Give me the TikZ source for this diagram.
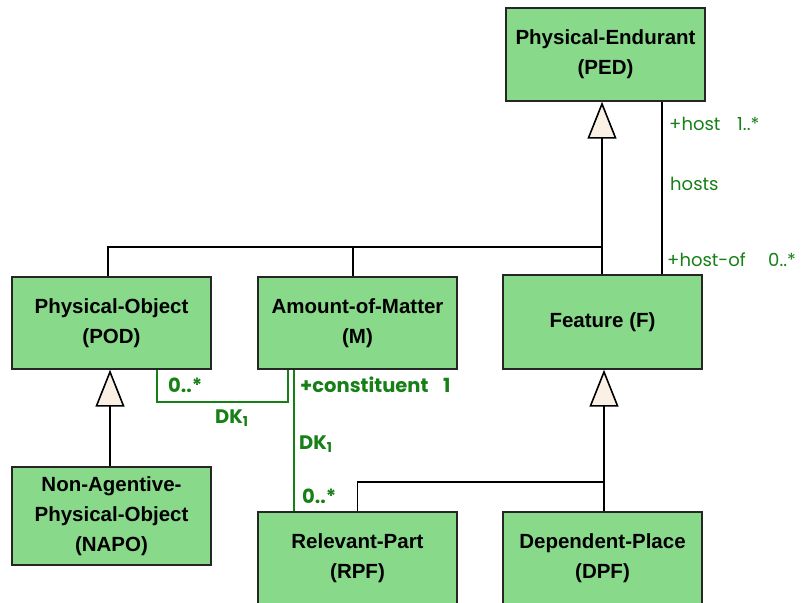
\documentclass[tikz,border=0pt]{standalone}
\usepackage{fontspec}
\setmainfont{Liberation Sans}
\newfontfamily\lblfont{Poppins}
\usetikzlibrary{arrows.meta}
\definecolor{boxgreen}{RGB}{137,217,139}
\definecolor{lblgreen}{RGB}{22,128,22}
\definecolor{trifill}{RGB}{250,240,228}
\begin{document}
\begin{tikzpicture}[x=1pt,y=-1pt,
  cls/.style={draw=black!85, line width=1.4pt, fill=boxgreen, minimum width=199pt,
    inner sep=0pt, align=center, font=\fontsize{20.5}{30}\selectfont\bfseries},
  gen/.style={draw=black, line width=1.6pt,
    -{Triangle[length=37pt,width=29pt,fill=trifill,line width=1.6pt]}},
  assoc/.style={draw=black, line width=1.6pt},
  dk/.style={draw=lblgreen, line width=2.8pt},
  glb/.style={text=lblgreen, inner sep=0pt, anchor=base west, font=\lblfont\fontsize{18}{20}\selectfont},
  gbl/.style={text=lblgreen, inner sep=0pt, anchor=base west, font=\lblfont\fontsize{19.5}{22}\selectfont\bfseries}]
\useasboundingbox (0,0) rectangle (802,602);
\clip (0,0) rectangle (802,602);
% classes
\node[cls, minimum height=93pt] (ped) at (605.5,54.5) {Physical-Endurant\\(PED)};
\node[cls, minimum height=92pt] (pod) at (111.5,323) {Physical-Object\\(POD)};
\node[cls, minimum height=92pt] (aom) at (357.5,323) {Amount-of-Matter\\(M)};
\node[cls, minimum height=94pt] (f) at (602.5,322) {Feature (F)};
\node[cls, minimum height=98pt] (napo) at (111.5,516) {Non-Agentive-\\Physical-Object\\(NAPO)};
\node[cls, minimum height=92pt] (rpf) at (357.5,558) {Relevant-Part\\(RPF)};
\node[cls, minimum height=92pt] (dpf) at (602.5,558) {Dependent-Place\\(DPF)};
% helper coordinates
\coordinate (gx) at (602,0);
\coordinate (jn) at (602,247);
\coordinate (hx) at (662,0);
\coordinate (fx) at (604,0);
\coordinate (jf) at (604,482);
\coordinate (b1) at (157,0);
\coordinate (b2) at (288,0);
\coordinate (by) at (0,402);
\coordinate (cx) at (294,0);
% generalizations
\draw[gen] (f.north -| gx) -- (ped.south -| gx);
\draw[assoc] ([xshift=-3.5pt]pod.north) |- (jn);
\draw[assoc] ([xshift=-4.5pt]aom.north) -- ([xshift=-4.5pt]aom.north |- jn);
\draw[gen] ([xshift=-1.5pt]napo.north) -- ([xshift=-1.5pt]pod.south);
\draw[gen] (dpf.north -| fx) -- (f.south -| fx);
\draw[assoc] (rpf.north) |- (jf);
% hosts association
\draw[assoc] (ped.south -| hx) -- (f.north -| hx);
% DK relations
\draw[dk] (pod.south -| b1) |- (by -| b2) -- (aom.south -| b2);
\draw[dk] (aom.south -| cx) -- (rpf.north -| cx);
% labels
\node[glb] (h1) at (669,130) {+host};
\node[glb] (h2) at (737,130) {1..*};
\node[glb] (h3) at (670,190) {hosts};
\node[glb] (h4) at (667,266) {+host-of};
\node[glb] (h5) at (768,266) {0..*};
\node[gbl] (d1) at (168,392) {0..*};
\node[gbl] (d2) at (215,423) {DK\textsubscript{1}};
\node[gbl] (d3) at (300,392) {+constituent};
\node[gbl] (d4) at (443,392) {1};
\node[gbl] (d5) at (299,449) {DK\textsubscript{1}};
\node[gbl] (d6) at (302,503) {0..*};
\end{tikzpicture}
\end{document}
